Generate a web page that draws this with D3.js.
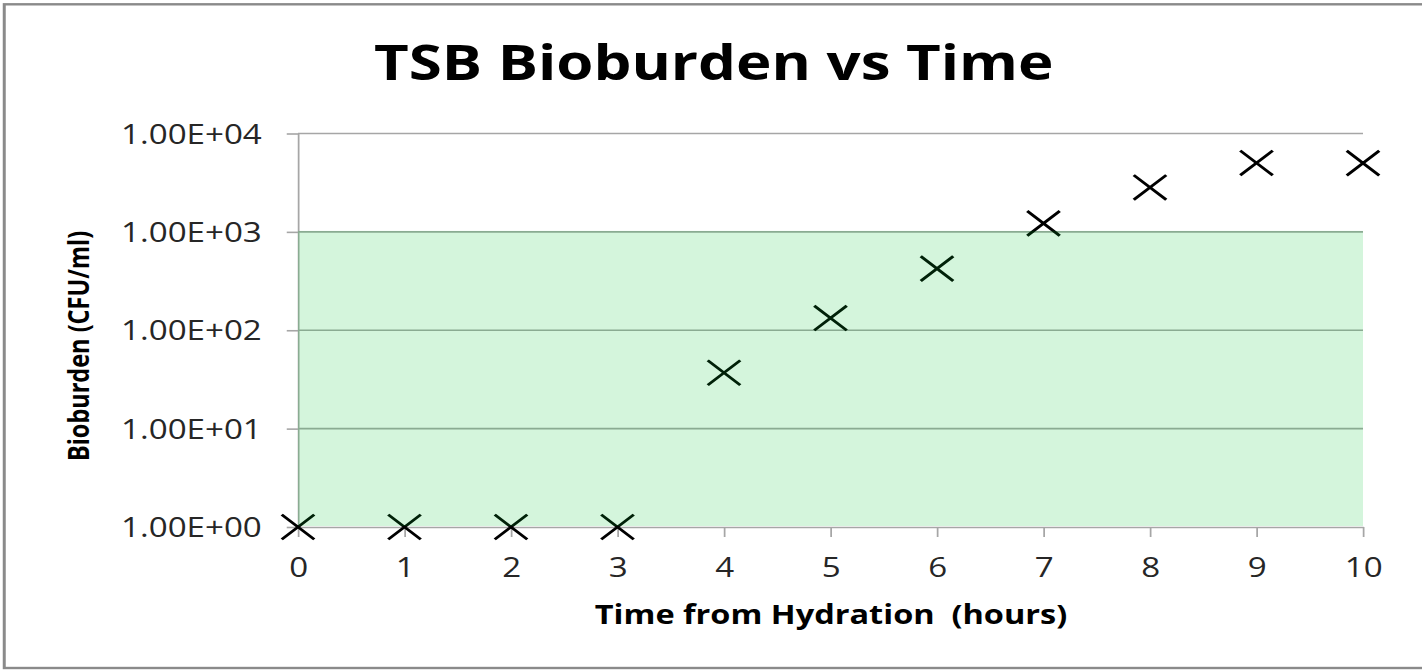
<!DOCTYPE html>
<html>
<head>
<meta charset="utf-8">
<script src="https://cdn.jsdelivr.net/npm/d3@7"></script>
<style>
  html, body { margin: 0; padding: 0; background: #fff; }
  svg { display: block; }
  text { font-family: "Open Sans", sans-serif; }
</style>
</head>
<body>
<svg id="chart"></svg>
<script>
// data
const hours = [0, 1, 2, 3, 4, 5, 6, 7, 8, 9, 10];
const bioburden = [1, 1, 1, 1, 37, 133, 423, 1220, 2830, 5020, 5000];
const yTicks = [1, 10, 100, 1000, 10000];
const yTickLabels = ["1.00E+00", "1.00E+01", "1.00E+02", "1.00E+03", "1.00E+04"];
const xTicks = [0, 1, 2, 3, 4, 5, 6, 7, 8, 9, 10];
const limitBand = [1, 1000];

// the original picture is stretched sideways, so draw in a narrower box and stretch it
const pageW = 1422, pageH = 671, stretch = 1.25;
const W = pageW / stretch, H = pageH;

const margin = {left: 238.4, right: W - 1090.4, top: 133.5, bottom: H - 527};

const svg = d3.select('#chart')
  .attr('width', pageW)
  .attr('height', pageH)
  .attr('viewBox', `0 0 ${W} ${H}`)
  .attr('preserveAspectRatio', 'none');

// outer frame (right side is cut off in the reference)
svg.append('rect')
  .attr('x', 3.4).attr('y', 4.3)
  .attr('width', W + 20).attr('height', 663.7)
  .attr('fill', '#fff')
  .attr('stroke', '#8a8a8a')
  .attr('stroke-width', 2.4);

let xScale = d3.scaleLinear([0, 10], [margin.left, W - margin.right]);
let yScale = d3.scaleLog([1, 10000], [H - margin.bottom, margin.top]);

// gridlines
svg.append('g')
  .selectAll('line')
  .data(yTicks.slice(1))
  .join('line')
  .attr('x1', xScale(0)).attr('x2', xScale(10))
  .attr('y1', d => yScale(d)).attr('y2', d => yScale(d))
  .attr('stroke', '#a6a6a6')
  .attr('stroke-width', 1.6);

// y axis
let yAxis = d3.axisLeft(yScale)
  .tickValues(yTicks)
  .tickFormat((d, i) => yTickLabels[i])
  .tickSize(9)
  .tickSizeOuter(0)
  .tickPadding(20);

let gy = svg.append('g')
  .attr('transform', `translate(${margin.left},0)`)
  .call(yAxis);
gy.select('.domain').attr('stroke', '#a6a6a6').attr('stroke-width', 1.4);
gy.selectAll('.tick line').attr('stroke', '#a6a6a6').attr('stroke-width', 1.6);
gy.selectAll('.tick text')
  .attr('font-size', 26.5)
  .attr('font-family', '"Open Sans", sans-serif')
  .attr('fill', '#262626')
  .attr('dy', '0.36em');

// x axis
let xAxis = d3.axisBottom(xScale)
  .tickValues(xTicks)
  .tickFormat(d3.format('d'))
  .tickSize(10)
  .tickSizeOuter(0)
  .tickPadding(21);

let gx = svg.append('g')
  .attr('transform', `translate(0,${yScale(1)})`)
  .call(xAxis);
gx.select('.domain').attr('stroke', '#a6a6a6').attr('stroke-width', 1.6);
gx.selectAll('.tick line').attr('stroke', '#a6a6a6').attr('stroke-width', 1.4);
gx.selectAll('.tick text')
  .attr('font-size', 26.5)
  .attr('font-family', '"Open Sans", sans-serif')
  .attr('fill', '#262626');

// markers
const half = 13;
svg.append('g')
  .selectAll('path')
  .data(hours.map((h, i) => [h, bioburden[i]]))
  .join('path')
  .attr('d', d => {
    let cx = xScale(d[0]), cy = yScale(d[1]);
    let hy = half * 0.95;
    return `M${cx - half},${cy - hy}L${cx + half},${cy + hy}M${cx - half},${cy + hy}L${cx + half},${cy - hy}`;
  })
  .attr('stroke', '#000')
  .attr('stroke-width', 2.6)
  .attr('fill', 'none');

// translucent green band on top
svg.append('rect')
  .attr('x', xScale(0))
  .attr('y', yScale(limitBand[1]) - 1)
  .attr('width', xScale(10) - xScale(0))
  .attr('height', yScale(limitBand[0]) - yScale(limitBand[1]))
  .attr('fill', 'rgb(2,196,49)')
  .attr('fill-opacity', 0.17);

// titles
svg.append('text')
  .attr('x', 571).attr('y', 80)
  .attr('text-anchor', 'middle')
  .attr('font-size', 48)
  .attr('font-weight', 'bold')
  .attr('fill', '#000')
  .text('TSB Bioburden vs Time');

svg.append('text')
  .attr('x', 664.8).attr('y', 624)
  .attr('text-anchor', 'middle')
  .attr('font-size', 26)
  .attr('font-weight', 'bold')
  .attr('fill', '#000')
  .attr('xml:space', 'preserve')
  .text('Time from Hydration  (hours)');

svg.append('text')
  .attr('transform', 'translate(71,346) rotate(-90)')
  .attr('text-anchor', 'middle')
  .attr('font-size', 23.5)
  .attr('font-weight', 'bold')
  .attr('fill', '#000')
  .text('Bioburden (CFU/ml)');
</script>
</body>
</html>
